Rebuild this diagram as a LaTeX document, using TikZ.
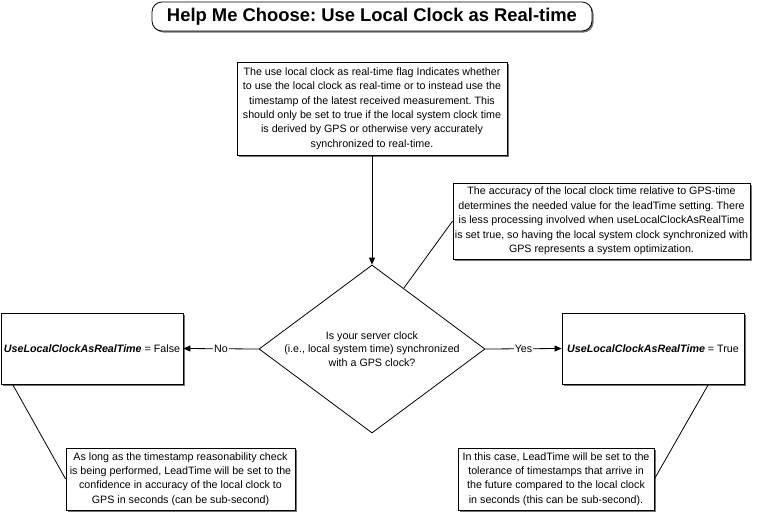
\documentclass[tikz,border=0pt]{standalone}
\usepackage{fontspec}
\setmainfont{Liberation Sans}
\usetikzlibrary{shapes.geometric,arrows.meta,shadows,calc}
\frenchspacing
\begin{document}
\begin{tikzpicture}[x=1pt,y=-1pt,line width=0.8pt,font=\fontsize{10.7}{14.4}\selectfont,
  boxshadow/.style={drop shadow={shadow xshift=1.5pt,shadow yshift=-1.5pt,fill=black!55,opacity=1}},
  box/.style={draw,fill=white,boxshadow,align=center,inner sep=0pt},
  link/.style={-{Triangle[length=7pt,width=6pt]}},
  lbl/.style={fill=white,inner sep=1pt}]
\useasboundingbox (0,0) rectangle (758,512);
\node[box,rounded corners=10pt,minimum width=440pt,minimum height=29pt,font=\fontsize{18.4}{20}\selectfont\bfseries] (title) at (372,16.5) {Help Me Choose: Use Local Clock as Real-time};
\begin{scope}[every node/.style={box}]
  \node[minimum width=270pt,minimum height=93pt] (flag) at (372,108.5) {The use local clock as real-time flag Indicates whether\\to use the local clock as real-time or to instead use the\\timestamp of the latest received measurement. This\\should only be set to true if the local system clock time\\is derived by GPS or otherwise very accurately\\synchronized to real-time.};
  \node[minimum width=297pt,minimum height=76pt] (accnote) at (601.5,221) {The accuracy of the local clock time relative to GPS-time\\determines the needed value for the leadTime setting. There\\is less processing involved when useLocalClockAsRealTime\\is set true, so having the local system clock synchronized with\\GPS represents a system optimization.};
  \node[minimum width=182pt,minimum height=71pt] (nofalse) at (92,348.5) {\textbf{\textit{UseLocalClockAsRealTime}} = False};
  \node[minimum width=182pt,minimum height=71pt] (yestrue) at (653,348.5) {\textbf{\textit{UseLocalClockAsRealTime}} = True};
  \node[minimum width=229pt,minimum height=62pt] (leftnote) at (180.5,479) {As long as the timestamp reasonability check\\is being performed, LeadTime will be set to the\\confidence in accuracy of the local clock to\\GPS in seconds (can be sub-second)};
  \node[minimum width=196pt,minimum height=62pt] (rightnote) at (556,479) {In this case, LeadTime will be set to the\\tolerance of timestamps that arrive in\\the future compared to the local clock\\in seconds (this can be sub-second).};
\end{scope}
\node[draw,diamond,aspect=1.345,inner sep=0pt,minimum width=226pt,minimum height=168pt,align=center,font=\fontsize{10.7}{13.5}\selectfont] (q) at (372,349) {Is your server clock\\(i.e., local system time) synchronized\\with a GPS clock?};
\draw[link] (flag.south) -- (q.north);
\draw[link] (q.west) -- node[lbl]{No} (nofalse.east);
\draw[link] (q.east) -- node[lbl]{Yes} (yestrue.west);
\draw ($(q.north)!0.28!(q.east)$) -- (accnote.west);
\draw ([xshift=12pt]nofalse.south west) -- (leftnote.west);
\draw ([xshift=-36pt]yestrue.south east) -- (rightnote.east);
\end{tikzpicture}
\end{document}
